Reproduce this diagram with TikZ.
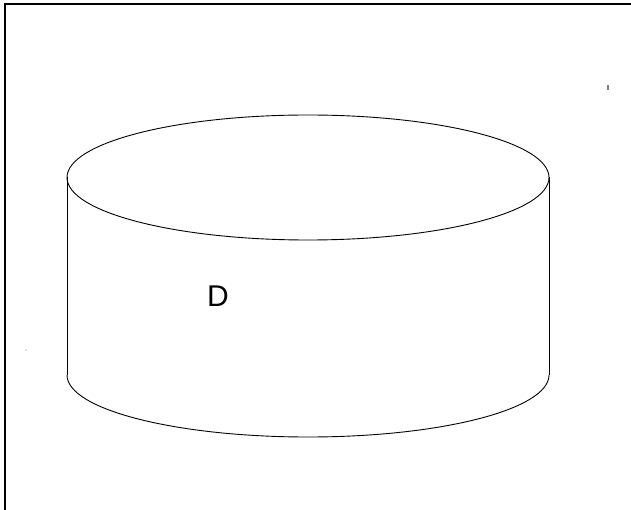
\documentclass[tikz,border=0pt]{standalone}
\usepackage{fontspec}
\setmainfont{Liberation Sans}
\begin{document}
\begin{tikzpicture}[x=1pt, y=-1pt, line width=0.9pt]
        \useasboundingbox (0,0) rectangle (631,510);
        % Frame
        \draw[line width=1.6pt] (5,520) -- (5,4) -- (640,4);
        
        % Stray marks
        \draw[gray, line width=1.2pt] (608,85) -- (608,90);
        \fill[gray] (26,350) circle (0.6);
        
        % Cylinder
        \draw (308,177.5) ellipse (241 and 62.5);
        \draw (67,177.5) -- (67,375);
        \draw (549,177.5) -- (549,375);
        \draw (67,375) arc (180:0:241 and 62);
        
        % Label
        \node[font=\fontsize{30}{36}\selectfont] (lblD) at (218,296) {D};
    \end{tikzpicture}
\end{document}
